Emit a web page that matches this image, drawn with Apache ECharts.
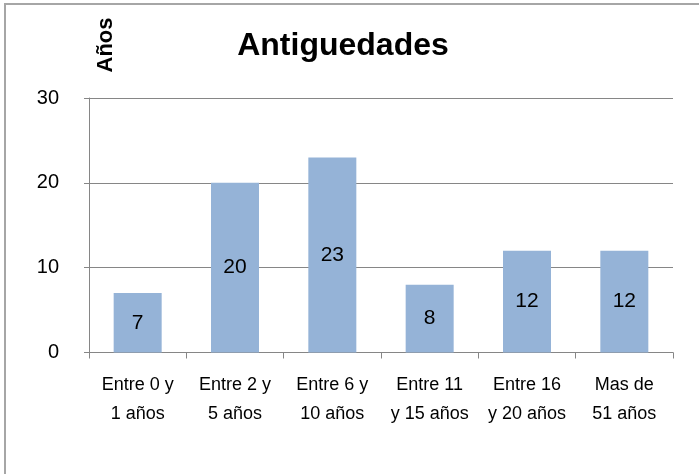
<!DOCTYPE html>
<html>
<head>
<meta charset="utf-8">
<script src="https://cdn.jsdelivr.net/npm/echarts@6/dist/echarts.min.js"></script>
<style>html,body{margin:0;padding:0;background:#fff;}#c{width:699px;height:474px;}</style>
</head>
<body>
<div id="c"></div>
<script>
const categories = ['Entre 0 y\n1 años', 'Entre 2 y\n5 años', 'Entre 6 y\n10 años', 'Entre 11\ny 15 años', 'Entre 16\ny 20 años', 'Mas de\n51 años'];
const values = [7, 20, 23, 8, 12, 12];
const titleText = 'Antiguedades';
const yName = 'Años';

const font = 'Liberation Sans, Arial, sans-serif';
const chart = echarts.init(document.getElementById('c'));
chart.setOption({
  animation: false,
  backgroundColor: '#fff',
  title: {
    text: titleText,
    left: 338,
    top: 25,
    textAlign: 'center',
    textStyle: { fontFamily: font, fontSize: 32, fontWeight: 'bold', color: '#000' }
  },
  graphic: [
    { type: 'rect', shape: { x: 5, y: 4, width: 760, height: 520 }, style: { fill: 'none', stroke: '#a6a6a6', lineWidth: 2 }, silent: true },
    { type: 'text', x: 106, y: 45, rotation: Math.PI / 2,
      style: { text: yName, font: 'bold 22px ' + font, fill: '#000', textAlign: 'center', textVerticalAlign: 'middle' } }
  ],
  grid: { left: 89, top: 98, right: 26, bottom: 121.5, containLabel: false },
  xAxis: {
    type: 'category',
    data: categories,
    axisLine: { lineStyle: { color: '#868686', width: 1 } },
    axisTick: { show: true, length: 6, lineStyle: { color: '#868686' } },
    axisLabel: { color: '#000', fontFamily: font, fontSize: 18, lineHeight: 29, margin: 18, interval: 0 }
  },
  yAxis: {
    type: 'value',
    min: 0, max: 30, interval: 10,
    axisLine: { show: true, lineStyle: { color: '#868686', width: 1 } },
    axisTick: { show: true, length: 5, lineStyle: { color: '#868686' } },
    axisLabel: { color: '#000', fontFamily: font, fontSize: 20, margin: 30 },
    splitLine: { lineStyle: { color: '#868686', width: 1 } }
  },
  series: [{
    type: 'bar',
    data: values,
    barWidth: 48,
    itemStyle: { color: '#95B3D7' },
    label: { show: true, position: 'inside', color: '#000', fontFamily: font, fontSize: 21 }
  }]
});
</script>
</body>
</html>
